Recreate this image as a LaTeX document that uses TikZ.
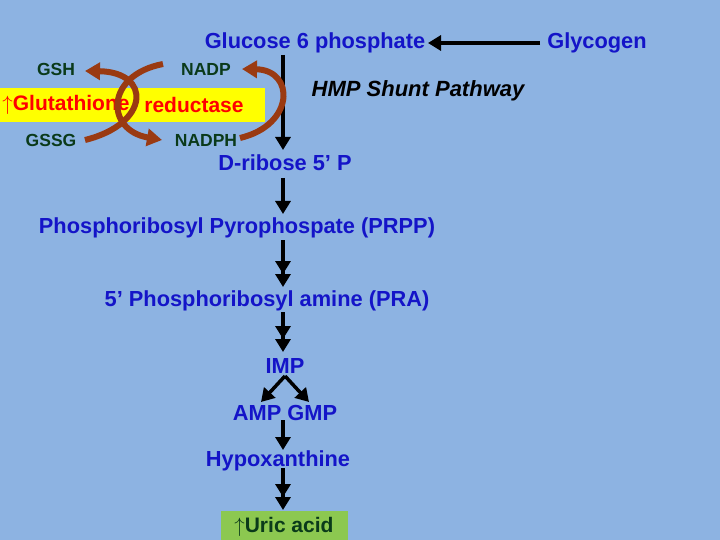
\documentclass[tikz,border=0pt]{standalone}
\usepackage{fontspec}
\setmainfont{Liberation Sans}
\usetikzlibrary{arrows.meta}
\definecolor{bg}{HTML}{8DB3E2}
\definecolor{bl}{HTML}{1414C8}
\definecolor{gr}{HTML}{0A3A1A}
\definecolor{br}{HTML}{9A3A12}
\definecolor{yl}{HTML}{FFFF00}
\definecolor{ug}{HTML}{8CC850}
\begin{document}
\begin{tikzpicture}[x=1pt,y=-1pt,
  lab/.style={text=bl,font=\bfseries\fontsize{21.8}{24}\selectfont,inner sep=1pt},
  sm/.style={text=gr,font=\bfseries\fontsize{17.5}{19}\selectfont,inner sep=1pt},
  ar/.style={line width=3.5pt,-{Triangle[length=13pt,width=15pt]}},
  dar/.style={line width=3.5pt,-{Triangle[length=13pt,width=15pt]Triangle[length=13pt,width=15pt]}},
  bra/.style={br,line width=6pt,-{Triangle[length=15pt,width=17pt]}}]
\fill[bg] (0,0) rectangle (720,540);
\useasboundingbox (0,0) rectangle (720,540);
\fill[yl] (0,88) rectangle (265,122);
\fill[ug] (221,511) rectangle (348,540);
\node[lab] (g6p) at (315,43) {Glucose 6 phosphate};
\node[lab] (gly) at (597,43) {Glycogen};
\node[sm] (gsh) at (56,69) {GSH};
\node[sm] (nadp) at (206,69) {NADP};
\node[sm] (gssg) at (51,140) {GSSG};
\node[sm] (nadph) at (206,140) {NADPH};
\node[text=red,font=\bfseries\fontsize{21}{23}\selectfont,inner sep=0pt] (glu) at (66,105) {$\uparrow$Glutathione};
\node[text=red,font=\bfseries\fontsize{21}{23}\selectfont,inner sep=0pt] (red) at (194,105) {reductase};
\node[font=\bfseries\itshape\fontsize{22}{24}\selectfont] (hmp) at (418,91) {HMP Shunt Pathway};
\node[lab] (rib) at (285,163) {D-ribose 5’ P};
\node[lab] (prpp) at (237,228) {Phosphoribosyl Pyrophospate (PRPP)};
\node[lab] (pra) at (267,301) {5’ Phosphoribosyl amine (PRA)};
\node[lab] (imp) at (285,366) {IMP};
\node[lab] (amp) at (285,413) {AMP GMP};
\node[lab] (hyp) at (278,461) {Hypoxanthine};
\node[text=gr,font=\bfseries\fontsize{21}{23}\selectfont,inner sep=1pt] (uric) at (284,527) {$\uparrow$Uric acid};
\coordinate (c1) at (540,43); \coordinate (c2) at (428,43);
\draw[ar] (c1) -- (c2);
\coordinate (a1) at (283,55); \coordinate (a2) at (283,150);
\draw[ar] (a1) -- (a2);
\coordinate (b1) at (283,178); \coordinate (b2) at (283,214);
\draw[ar] (b1) -- (b2);
\coordinate (d1) at (283,240); \coordinate (d2) at (283,287);
\draw[dar] (d1) -- (d2);
\coordinate (e1) at (283,312); \coordinate (e2) at (283,352);
\draw[dar] (e1) -- (e2);
\coordinate (f0) at (285,376); \coordinate (fa) at (261,402); \coordinate (fg) at (309,402);
\draw[ar] (f0) -- (fa); \draw[ar] (f0) -- (fg);
\coordinate (h1) at (283,420); \coordinate (h2) at (283,450);
\draw[ar] (h1) -- (h2);
\coordinate (u1) at (283,468); \coordinate (u2) at (283,510);
\draw[dar] (u1) -- (u2);
\draw[bra] (85,140) .. controls (150,124) and (152,72) .. (85,71);
\draw[bra] (163,64) .. controls (105,75) and (105,130) .. (162,140);
\draw[bra] (240,138) .. controls (295,125) and (295,70) .. (242,69);
\end{tikzpicture}
\end{document}
